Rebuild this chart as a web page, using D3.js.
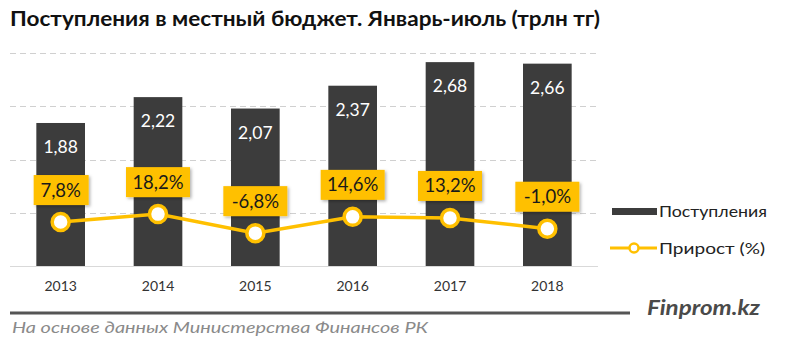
<!DOCTYPE html>
<html><head><meta charset="utf-8">
<script src="https://cdn.jsdelivr.net/npm/d3@7"></script>
<style>html,body{margin:0;padding:0;background:#fff}svg{display:block}</style>
</head><body>
<svg id="c" width="800" height="349"></svg>
<script>
const years = ["2013","2014","2015","2016","2017","2018"];
const revenue = [1.88, 2.22, 2.07, 2.37, 2.68, 2.66];
const growth = [7.8, 18.2, -6.8, 14.6, 13.2, -1.0];
const revenueLabels = ["1,88","2,22","2,07","2,37","2,68","2,66"];
const growthLabels = ["7,8%","18,2%","-6,8%","14,6%","13,2%","-1,0%"];
const gridTicks = [0.7, 1.4, 2.1, 2.8];
const titleText = "Поступления в местный бюджет. Январь-июль (трлн тг)";
const sourceText = "На основе данных Министерства Финансов РК";
const brandText = "Finprom.kz";
const legendLabels = ["Поступления", "Прирост (%)"];

const svg = d3.select("#c");
const font = "Lato, 'Open Sans', sans-serif";
const barColor = "#3c3c3c", yellow = "#FFC000";

const x = d3.scaleBand().domain(years).range([12, 596]).paddingInner(0.5).paddingOuter(0.25);
const y = d3.scaleLinear().domain([0, 2.8]).range([266, 53]);
const y2 = d3.scaleLinear().domain([-50, 230]).range([266, 53]);

// title
svg.append("text").attr("x", 10).attr("y", 26).text(titleText)
  .attr("font-family", font).attr("font-weight", "bold").attr("font-size", 20)
  .attr("fill", "#111").attr("textLength", 590).attr("lengthAdjust", "spacingAndGlyphs");

// gridlines
svg.append("g").selectAll("line").data(gridTicks).join("line")
  .attr("x1", 10).attr("x2", 598).attr("y1", d => Math.round(y(d)) + 0.5).attr("y2", d => Math.round(y(d)) + 0.5)
  .attr("stroke", "#d0d0d0").attr("stroke-width", 1).attr("stroke-dasharray", "6,4");

// bars
svg.append("g").selectAll("rect").data(revenue).join("rect")
  .attr("x", (d, i) => x(years[i])).attr("width", x.bandwidth())
  .attr("y", d => y(d)).attr("height", d => y(0) - y(d)).attr("fill", barColor);

// baseline
svg.append("line").attr("x1", 10).attr("x2", 598).attr("y1", y(0) + 0.5).attr("y2", y(0) + 0.5)
  .attr("stroke", "#d9d9d9").attr("stroke-width", 1);

// bar value labels
svg.append("g").selectAll("text").data(revenue).join("text")
  .attr("x", (d, i) => x(years[i]) + x.bandwidth() / 2).attr("y", d => y(d) + 30)
  .attr("text-anchor", "middle").attr("font-family", font).attr("font-size", 17.5)
  .attr("fill", "#fff").text((d, i) => revenueLabels[i]);

// x axis
const xAxis = d3.axisBottom(x).tickSize(0).tickPadding(0);
const gx = svg.append("g").attr("transform", "translate(0,281)").call(xAxis);
gx.select(".domain").remove();
gx.selectAll("text").attr("font-family", font).attr("font-size", 14).attr("fill", "#333").attr("dy", "0.71em");

// line
const cx = (d, i) => x(years[i]) + x.bandwidth() / 2;
const line = d3.line().x(cx).y(d => y2(d));
svg.append("path").datum(growth).attr("d", line).attr("fill", "none")
  .attr("stroke", yellow).attr("stroke-width", 3.5);

// markers
svg.append("g").selectAll("circle").data(growth).join("circle")
  .attr("cx", cx).attr("cy", d => y2(d)).attr("r", 8.5)
  .attr("fill", "#fff").attr("stroke", yellow).attr("stroke-width", 3.5);

// label boxes
const defs = svg.append("defs");
const f = defs.append("filter").attr("id", "sh").attr("x", "-20%").attr("y", "-20%").attr("width", "150%").attr("height", "160%");
f.append("feDropShadow").attr("dx", 1.5).attr("dy", 1.5).attr("stdDeviation", 1.5).attr("flood-color", "#000").attr("flood-opacity", 0.3);

const lbl = svg.append("g").selectAll("g").data(growth).join("g")
  .attr("transform", (d, i) => `translate(${cx(d, i)},${y2(d) - 32})`);
lbl.append("rect").attr("x", (d, i) => growthLabels[i].length > 4 ? -32 : -27)
  .attr("width", (d, i) => growthLabels[i].length > 4 ? 64 : 55)
  .attr("y", -15).attr("height", 30).attr("fill", yellow).attr("filter", "url(#sh)");
lbl.append("text").attr("text-anchor", "middle").attr("y", 6.5)
  .attr("font-family", font).attr("font-size", 18.5).attr("fill", "#1a1a1a")
  .text((d, i) => growthLabels[i]);

// legend
svg.append("rect").attr("x", 612).attr("y", 208).attr("width", 45).attr("height", 7).attr("fill", barColor);
svg.append("text").attr("x", 659).attr("y", 217).text(legendLabels[0])
  .attr("font-family", font).attr("font-size", 15.5).attr("fill", "#222")
  .attr("textLength", 108).attr("lengthAdjust", "spacingAndGlyphs");
svg.append("line").attr("x1", 610).attr("x2", 657).attr("y1", 248).attr("y2", 248)
  .attr("stroke", yellow).attr("stroke-width", 3);
svg.append("circle").attr("cx", 634).attr("cy", 248).attr("r", 4.5)
  .attr("fill", "#fff").attr("stroke", yellow).attr("stroke-width", 2.5);
svg.append("text").attr("x", 659).attr("y", 254).text(legendLabels[1])
  .attr("font-family", font).attr("font-size", 15.5).attr("fill", "#222")
  .attr("textLength", 106).attr("lengthAdjust", "spacingAndGlyphs");

// footer
svg.append("line").attr("x1", 10).attr("x2", 630).attr("y1", 313).attr("y2", 313)
  .attr("stroke", "#555").attr("stroke-width", 3);
svg.append("text").attr("x", 647).attr("y", 315).text(brandText)
  .attr("font-family", font).attr("font-weight", "bold").attr("font-style", "italic")
  .attr("font-size", 21).attr("fill", "#4a4a4a")
  .attr("textLength", 113).attr("lengthAdjust", "spacingAndGlyphs");
svg.append("text").attr("x", 12).attr("y", 333).text(sourceText)
  .attr("font-family", font).attr("font-style", "italic").attr("font-size", 15.5).attr("fill", "#8a8a8a")
  .attr("textLength", 416).attr("lengthAdjust", "spacingAndGlyphs");
</script>
</body></html>
